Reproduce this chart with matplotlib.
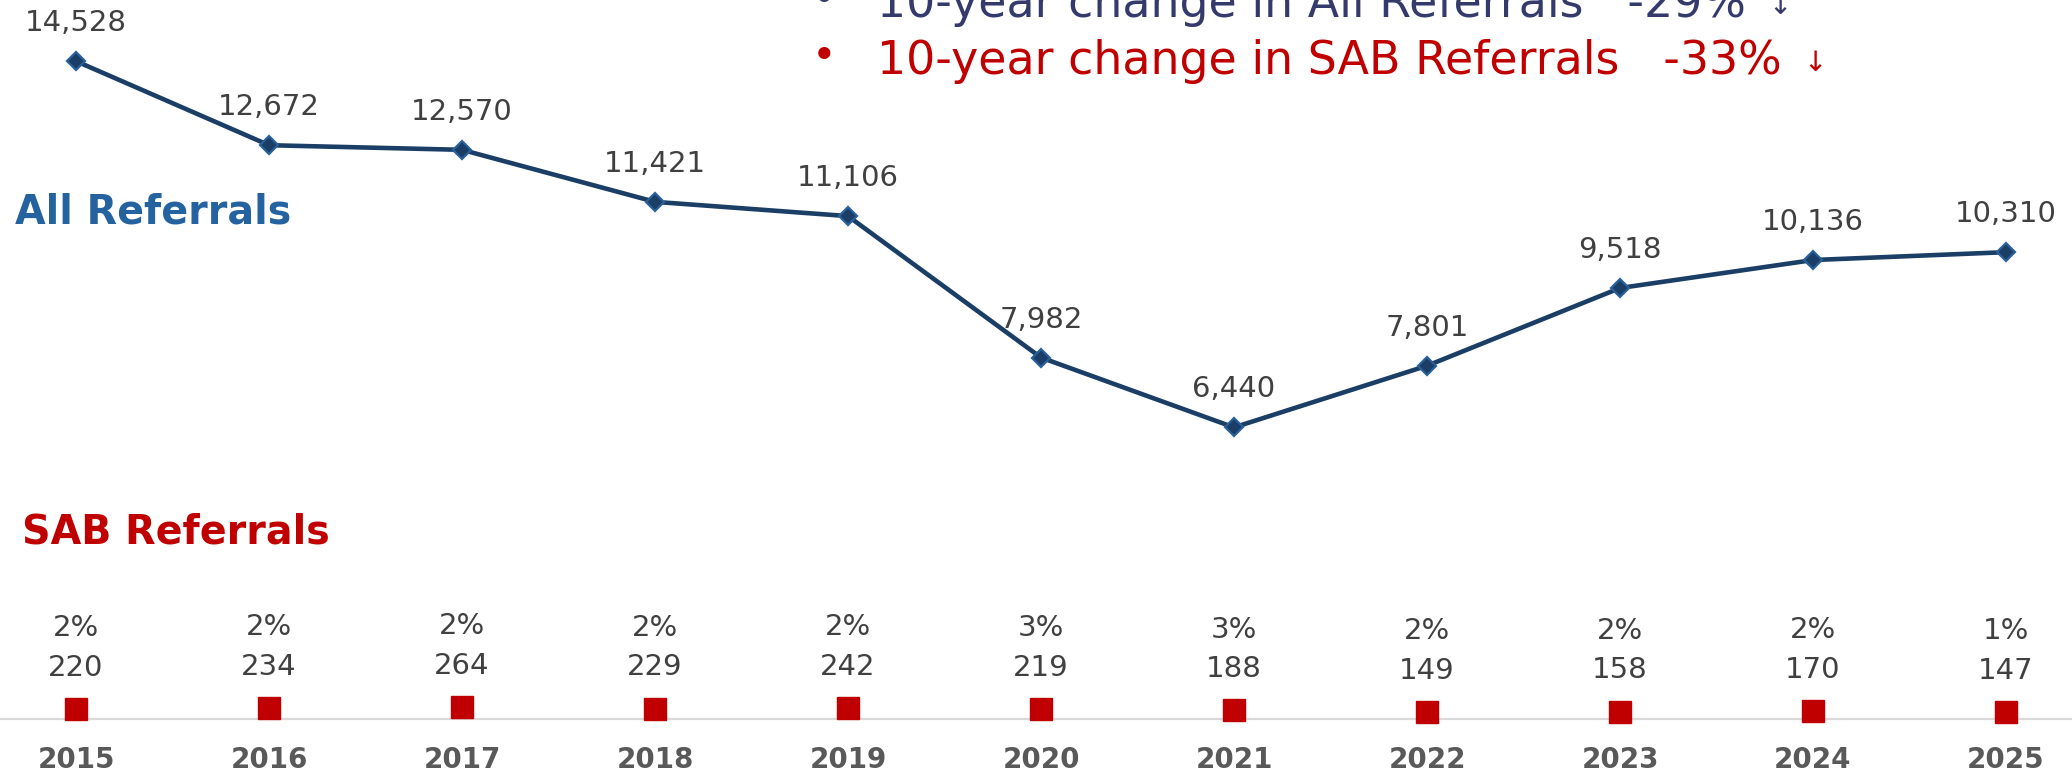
"""
All Referrals vs SAB Referrals, 2015-2025
"""

import matplotlib
matplotlib.use("Agg")
import matplotlib.pyplot as plt

years = [2015, 2016, 2017, 2018, 2019, 2020, 2021, 2022, 2023, 2024, 2025]
all_referrals = [14528, 12672, 12570, 11421, 11106, 7982, 6440, 7801, 9518, 10136, 10310]
sab_referrals = [220, 234, 264, 229, 242, 219, 188, 149, 158, 170, 147]

sab_share = [round(s / a * 100) for s, a in zip(sab_referrals, all_referrals)]
all_change = round((all_referrals[-1] - all_referrals[0]) / all_referrals[0] * 100)
sab_change = round((sab_referrals[-1] - sab_referrals[0]) / sab_referrals[0] * 100)

plt.rcParams['font.family'] = ['DejaVu Sans']

W, H = 2072, 776
fig = plt.figure(figsize=(W / 100, H / 100), dpi=100, facecolor='white')
ax = fig.add_axes([0, 0, 1, 1])
ax.set_axis_off()

x = list(range(len(years)))
ax.set_xlim(-0.394, 10.342)
ax.set_ylim(-1259, 15879)

# baseline
ax.axhline(0, color='#d9d9d9', lw=1.6, zorder=1)

# all referrals line
ax.plot(x, all_referrals, color='#1a3e66', lw=3.3, marker='D', markersize=9,
        markerfacecolor='#1a3e66', markeredgecolor='#2a6099', markeredgewidth=1.6,
        zorder=3)
for xi, v in zip(x, all_referrals):
    ax.annotate(f"{v:,}", (xi, v), xytext=(0, 27.4), textcoords='offset points',
                ha='center', va='center', fontsize=21, color='#404040')

# SAB referrals squares
ax.plot(x, sab_referrals, linestyle='none', marker='s', markersize=16.5,
        color='#c00000', zorder=4)
for xi, v, p in zip(x, sab_referrals, sab_share):
    ax.annotate(f"{v}", (xi, v), xytext=(0, 29.9), textcoords='offset points',
                ha='center', va='center', fontsize=21, color='#404040')
    ax.annotate(f"{p}%", (xi, v), xytext=(0, 58.3), textcoords='offset points',
                ha='center', va='center', fontsize=21, color='#404040')

# year labels
for xi, yr in zip(x, years):
    ax.annotate(str(yr), (xi, 0), xytext=(0, -29.5), textcoords='offset points',
                ha='center', va='center', fontsize=20, fontweight='bold',
                color='#595959')

# series headers
fig.text(15 / W, 1 - 223 / H, "All Referrals", fontsize=28.5, fontweight='bold',
         color='#2463a0', ha='left', va='baseline')
fig.text(22 / W, 1 - 544 / H, "SAB Referrals", fontsize=28.5, fontweight='bold',
         color='#c00000', ha='left', va='baseline')

# summary bullets
lines = [
    (f"10-year change in All Referrals   {all_change}%", '#353a6c', 17),
    (f"10-year change in SAB Referrals   {sab_change}%", '#c00000', 74),
]
fig.canvas.draw()
renderer = fig.canvas.get_renderer()
for txt, col, base in lines:
    fig.text(824 / W, 1 - (base - 17) / H, "\u2022", fontsize=30, color=col,
             ha='center', va='center')
    t = fig.text(877 / W, 1 - base / H, txt, fontsize=33, color=col,
                 ha='left', va='baseline')
    bb = t.get_window_extent(renderer)
    fig.text((bb.x1 + 22) / W, 1 - (base - 11) / H, "\u2193", fontsize=20,
             color=col, ha='left', va='center')

plt.savefig("out.png", dpi=100, facecolor='white')
